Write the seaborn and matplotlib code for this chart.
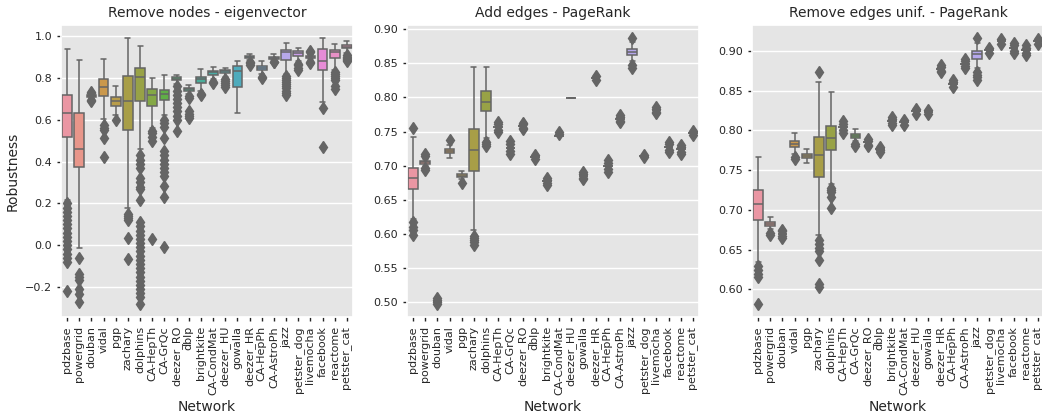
import pandas as pd
import matplotlib
matplotlib.use("Agg")
import matplotlib.pyplot as plt
import seaborn as sns

networks = ["pdzbase", "powergrid", "douban", "vidal", "pgp", "zachary", "dolphins",
            "CA-HepTh", "CA-GrQc", "deezer_RO", "dblp", "brightkite", "CA-CondMat",
            "deezer_HU", "gowalla", "deezer_HR", "CA-HepPh", "CA-AstroPh", "jazz",
            "petster_dog", "livemocha", "facebook", "reactome", "petster_cat"]

# (whisker low, q1, median, q3, whisker high) per network
eig_box = [(0.215, 0.516, 0.631, 0.72, 0.939), (-0.015, 0.372, 0.462, 0.631, 0.888),
           (0.705, 0.711, 0.714, 0.717, 0.725), (0.604, 0.714, 0.759, 0.794, 0.89),
           (0.625, 0.666, 0.692, 0.708, 0.764), (0.18, 0.551, 0.692, 0.811, 0.99),
           (0.46, 0.688, 0.807, 0.848, 0.955), (0.56, 0.668, 0.72, 0.748, 0.799),
           (0.625, 0.695, 0.724, 0.743, 0.812), (0.77, 0.788, 0.797, 0.803, 0.816),
           (0.725, 0.739, 0.745, 0.751, 0.768), (0.74, 0.775, 0.796, 0.807, 0.843),
           (0.795, 0.815, 0.827, 0.835, 0.851), (0.805, 0.823, 0.832, 0.839, 0.848),
           (0.631, 0.759, 0.835, 0.856, 0.88), (0.885, 0.895, 0.9, 0.905, 0.915),
           (0.82, 0.839, 0.848, 0.859, 0.883), (0.885, 0.893, 0.897, 0.902, 0.915),
           (0.82, 0.887, 0.923, 0.935, 0.966), (0.88, 0.907, 0.92, 0.931, 0.944),
           (0.89, 0.895, 0.9, 0.905, 0.91), (0.686, 0.838, 0.883, 0.94, 0.99),
           (0.84, 0.896, 0.923, 0.935, 0.963), (0.92, 0.942, 0.95, 0.96, 0.976)]
eig_out = [[0.20, 0.18, 0.16, 0.14, 0.12, 0.10, 0.08, 0.06, 0.04, 0.02, 0.0, -0.02, -0.04, -0.06, -0.08, -0.22],
           [-0.06, -0.14, -0.15, -0.165, -0.21, -0.235, -0.27],
           [0.69, 0.695, 0.73, 0.735],
           [0.575, 0.56, 0.55, 0.515, 0.42],
           [0.598],
           [0.15, 0.14, 0.13, 0.12, 0.035, -0.065],
           [0.43, 0.41, 0.39, 0.37, 0.32, 0.30, 0.28, 0.27, 0.215, 0.11, 0.09, 0.07, 0.05, 0.03,
            0.01, -0.01, -0.03, -0.05, -0.07, -0.09, -0.11, -0.13, -0.15, -0.17, -0.19, -0.21,
            -0.23, -0.25, -0.28],
           [0.545, 0.535, 0.52, 0.50, 0.03],
           [0.60, 0.585, 0.565, 0.515, 0.45, 0.43, 0.41, 0.39, 0.37, 0.35, 0.33, 0.285, 0.23, -0.01],
           [0.76, 0.74, 0.72, 0.70, 0.68, 0.66, 0.64, 0.62, 0.60, 0.545],
           [0.715, 0.705, 0.64, 0.63, 0.62, 0.61],
           [0.724, 0.718],
           [0.78, 0.775],
           [0.795, 0.785, 0.775, 0.765, 0.755],
           [],
           [0.878, 0.87, 0.862],
           [0.805, 0.80],
           [0.878, 0.875],
           [0.81, 0.80, 0.79, 0.78, 0.77, 0.76, 0.75, 0.74, 0.73, 0.72],
           [0.868, 0.86, 0.85, 0.84],
           [0.922, 0.928, 0.878, 0.873],
           [0.655, 0.471],
           [0.83, 0.82, 0.81, 0.80, 0.79, 0.76, 0.745],
           [0.91, 0.90, 0.895, 0.89, 0.885, 0.88]]

pr_add_box = [(0.622, 0.666, 0.682, 0.697, 0.742), (0.700, 0.703, 0.705, 0.707, 0.709),
              (0.501,) * 5, (0.711, 0.719, 0.722, 0.725, 0.73),
              (0.68, 0.683, 0.685, 0.687, 0.692), (0.605, 0.692, 0.723, 0.754, 0.845),
              (0.741, 0.78, 0.793, 0.809, 0.845), (0.757,) * 5,
              (0.726,) * 5, (0.758,) * 5, (0.713,) * 5, (0.677,) * 5,
              (0.744,) * 5, (0.799,) * 5, (0.685,) * 5, (0.829,) * 5,
              (0.700,) * 5, (0.769,) * 5, (0.854, 0.862, 0.867, 0.871, 0.882),
              (0.714,) * 5, (0.781,) * 5, (0.727,) * 5, (0.724,) * 5, (0.748,) * 5]
pr_add_out = [[0.755, 0.617, 0.61, 0.605, 0.598], [0.714, 0.717, 0.693, 0.696],
              [0.497, 0.499, 0.503, 0.505], [0.737], [0.675],
              [0.597, 0.593, 0.59, 0.587, 0.584], [0.735, 0.732, 0.729],
              [0.749, 0.752, 0.761, 0.764], [0.717, 0.721, 0.731, 0.736],
              [0.753, 0.755, 0.761, 0.763], [0.710, 0.716], [0.672, 0.674, 0.679, 0.681],
              [0.747, 0.749], [], [0.680, 0.682, 0.688, 0.690], [0.826, 0.832],
              [0.691, 0.695, 0.704, 0.708], [0.764, 0.766, 0.772, 0.775],
              [0.887, 0.847, 0.844], [0.712, 0.716], [0.777, 0.779, 0.783, 0.786],
              [0.720, 0.723, 0.731, 0.734], [0.717, 0.720, 0.727, 0.730], [0.745, 0.751]]

pr_rem_box = [(0.635, 0.687, 0.707, 0.7245, 0.767), (0.676, 0.680, 0.682, 0.685, 0.691),
              (0.670,) * 5, (0.77, 0.779, 0.783, 0.787, 0.797),
              (0.759, 0.765, 0.768, 0.77, 0.777), (0.669, 0.741, 0.769, 0.792, 0.861),
              (0.733, 0.775, 0.79, 0.805, 0.848), (0.804,) * 5,
              (0.787, 0.791, 0.793, 0.796, 0.802), (0.785,) * 5, (0.777,) * 5,
              (0.812,) * 5, (0.811,) * 5, (0.824,) * 5, (0.823,) * 5, (0.877,) * 5,
              (0.858,) * 5, (0.884,) * 5, (0.878, 0.89, 0.896, 0.9, 0.91),
              (0.901,) * 5, (0.912,) * 5, (0.904,) * 5, (0.901,) * 5, (0.912,) * 5]
pr_rem_out = [[0.629, 0.625, 0.62, 0.616, 0.582], [0.671, 0.668],
              [0.665, 0.667, 0.673, 0.675], [0.766, 0.764], [],
              [0.873, 0.662, 0.657, 0.652, 0.648, 0.637, 0.607, 0.603],
              [0.728, 0.725, 0.722, 0.716, 0.702], [0.797, 0.800, 0.808, 0.812],
              [0.783, 0.781], [0.780, 0.782, 0.787, 0.789], [0.773, 0.775, 0.779],
              [0.807, 0.809, 0.815, 0.817], [0.807, 0.813], [0.821, 0.827], [0.821, 0.826],
              [0.873, 0.875, 0.880, 0.882], [0.861, 0.864, 0.855],
              [0.879, 0.881, 0.887, 0.890], [0.916, 0.873, 0.87, 0.867, 0.864],
              [0.898, 0.904], [0.909, 0.915], [0.897, 0.900, 0.907, 0.910],
              [0.895, 0.898, 0.904, 0.907], [0.909, 0.915]]

titles = ["Remove nodes - eigenvector", "Add edges - PageRank", "Remove edges unif. - PageRank"]


def expand(box, out):
    # sample whose quartiles, whiskers and outliers are the values read above
    lo, q1, med, q3, hi = box
    k = len(out) + 5
    return [lo] + [q1] * k + [med] * k + [q3] * k + [hi] + list(out)


def to_frame(boxes, outs):
    rows = []
    for name, b, o in zip(networks, boxes, outs):
        for v in expand(b, o):
            rows.append((name, v))
    return pd.DataFrame(rows, columns=["Network", "Robustness"])


sns.set_theme(style="darkgrid", rc={
    "axes.facecolor": "#E5E5E5",
    "xtick.bottom": True, "ytick.left": True,
    "xtick.major.size": 3, "ytick.major.size": 3,
    "xtick.major.width": 1, "ytick.major.width": 1,
    "xtick.labelsize": 8, "ytick.labelsize": 8,
    "axes.labelsize": 10, "axes.titlesize": 10,
})

pal = sns.husl_palette(len(networks), l=.7)
gray = "#656565"

fig = plt.figure(figsize=(10.42, 4.18), dpi=100)
lefts = [61, 407, 752]
panels = [(eig_box, eig_out), (pr_add_box, pr_add_out), (pr_rem_box, pr_rem_out)]

for i, (boxes, outs) in enumerate(panels):
    ax = fig.add_axes([lefts[i] / 1042, 101 / 418, 292 / 1042, 292 / 418])
    df = to_frame(boxes, outs)
    sns.boxplot(data=df, x="Network", y="Robustness", hue="Network", order=networks,
                hue_order=networks, palette=pal, saturation=0.75, legend=False,
                linewidth=1.1, linecolor=gray, width=0.8, ax=ax,
                flierprops=dict(marker="d", markersize=6.5, markerfacecolor=gray,
                                markeredgecolor=gray))
    ax.set_title(titles[i])
    ax.tick_params(axis="x", rotation=90)
    if i > 0:
        ax.set_ylabel("")

fig.savefig("out.png", dpi=100)
